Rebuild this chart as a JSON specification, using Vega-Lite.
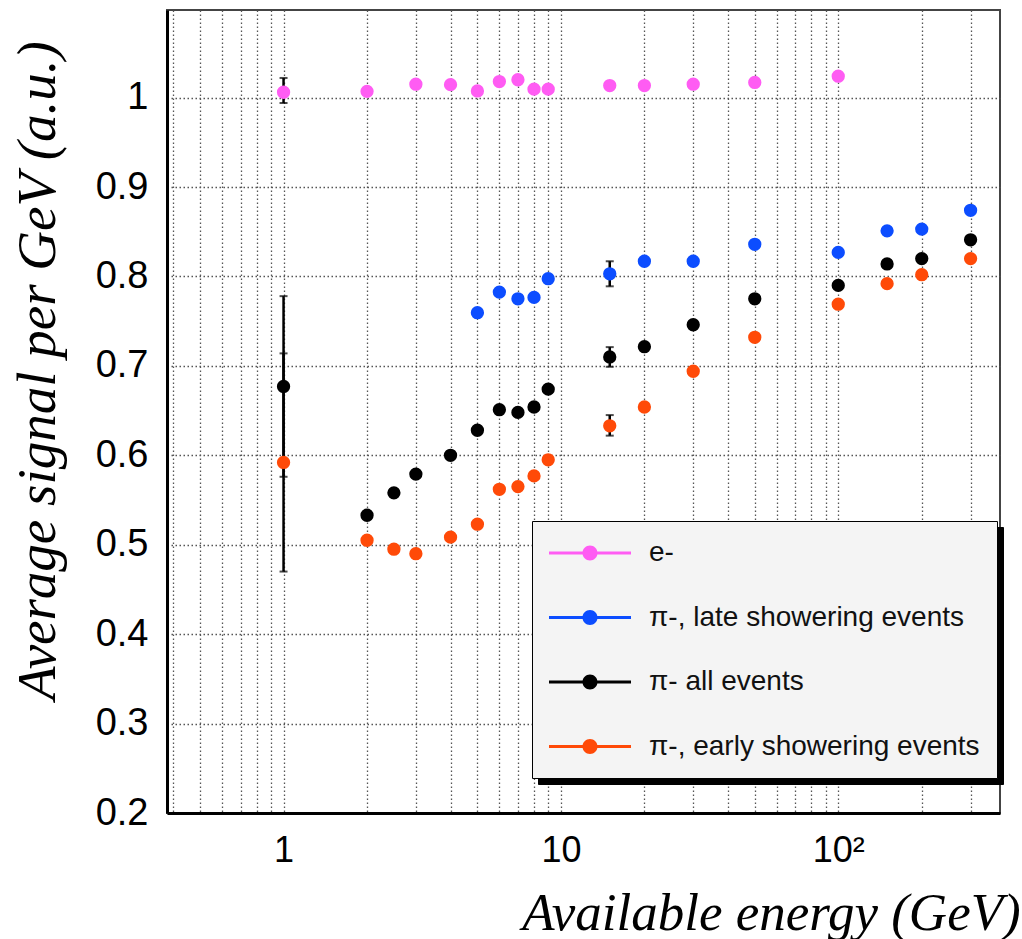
{
  "$schema": "https://vega.github.io/schema/vega-lite/v6.json",
  "width": 833,
  "height": 803,
  "autosize": "none",
  "padding": {"left": 167, "top": 10, "right": 22, "bottom": 126},
  "background": "white",
  "config": {"view": {"stroke": "#444", "strokeWidth": 2}},
  "datasets": {
    "pts": [
      {"E": 1, "v": 1.006, "s": "e-"},
      {"E": 2, "v": 1.007, "s": "e-"},
      {"E": 3, "v": 1.015, "s": "e-"},
      {"E": 4, "v": 1.0145, "s": "e-"},
      {"E": 5, "v": 1.0075, "s": "e-"},
      {"E": 6, "v": 1.018, "s": "e-"},
      {"E": 7, "v": 1.02, "s": "e-"},
      {"E": 8, "v": 1.0095, "s": "e-"},
      {"E": 9, "v": 1.0095, "s": "e-"},
      {"E": 15, "v": 1.0135, "s": "e-"},
      {"E": 20, "v": 1.0135, "s": "e-"},
      {"E": 30, "v": 1.015, "s": "e-"},
      {"E": 50, "v": 1.017, "s": "e-"},
      {"E": 100, "v": 1.024, "s": "e-"},
      {"E": 5, "v": 0.7595, "s": "π-, late showering events"},
      {"E": 6, "v": 0.7825, "s": "π-, late showering events"},
      {"E": 7, "v": 0.775, "s": "π-, late showering events"},
      {"E": 8, "v": 0.7766, "s": "π-, late showering events"},
      {"E": 9, "v": 0.7975, "s": "π-, late showering events"},
      {"E": 15, "v": 0.803, "s": "π-, late showering events"},
      {"E": 20, "v": 0.817, "s": "π-, late showering events"},
      {"E": 30, "v": 0.817, "s": "π-, late showering events"},
      {"E": 50, "v": 0.836, "s": "π-, late showering events"},
      {"E": 100, "v": 0.827, "s": "π-, late showering events"},
      {"E": 150, "v": 0.851, "s": "π-, late showering events"},
      {"E": 200, "v": 0.853, "s": "π-, late showering events"},
      {"E": 300, "v": 0.874, "s": "π-, late showering events"},
      {"E": 1, "v": 0.677, "s": "π- all events"},
      {"E": 2, "v": 0.533, "s": "π- all events"},
      {"E": 2.5, "v": 0.558, "s": "π- all events"},
      {"E": 3, "v": 0.579, "s": "π- all events"},
      {"E": 4, "v": 0.6, "s": "π- all events"},
      {"E": 5, "v": 0.628, "s": "π- all events"},
      {"E": 6, "v": 0.651, "s": "π- all events"},
      {"E": 7, "v": 0.648, "s": "π- all events"},
      {"E": 8, "v": 0.654, "s": "π- all events"},
      {"E": 9, "v": 0.674, "s": "π- all events"},
      {"E": 15, "v": 0.71, "s": "π- all events"},
      {"E": 20, "v": 0.7215, "s": "π- all events"},
      {"E": 30, "v": 0.746, "s": "π- all events"},
      {"E": 50, "v": 0.775, "s": "π- all events"},
      {"E": 100, "v": 0.79, "s": "π- all events"},
      {"E": 150, "v": 0.814, "s": "π- all events"},
      {"E": 200, "v": 0.82, "s": "π- all events"},
      {"E": 300, "v": 0.841, "s": "π- all events"},
      {"E": 1, "v": 0.592, "s": "π-, early showering events"},
      {"E": 2, "v": 0.505, "s": "π-, early showering events"},
      {"E": 2.5, "v": 0.495, "s": "π-, early showering events"},
      {"E": 3, "v": 0.49, "s": "π-, early showering events"},
      {"E": 4, "v": 0.5085, "s": "π-, early showering events"},
      {"E": 5, "v": 0.523, "s": "π-, early showering events"},
      {"E": 6, "v": 0.562, "s": "π-, early showering events"},
      {"E": 7, "v": 0.565, "s": "π-, early showering events"},
      {"E": 8, "v": 0.577, "s": "π-, early showering events"},
      {"E": 9, "v": 0.595, "s": "π-, early showering events"},
      {"E": 15, "v": 0.633, "s": "π-, early showering events"},
      {"E": 20, "v": 0.654, "s": "π-, early showering events"},
      {"E": 30, "v": 0.694, "s": "π-, early showering events"},
      {"E": 50, "v": 0.732, "s": "π-, early showering events"},
      {"E": 100, "v": 0.769, "s": "π-, early showering events"},
      {"E": 150, "v": 0.792, "s": "π-, early showering events"},
      {"E": 200, "v": 0.802, "s": "π-, early showering events"},
      {"E": 300, "v": 0.82, "s": "π-, early showering events"}
    ],
    "errs": [
      {"E": 1, "lo": 0.994, "hi": 1.022, "s": "e-"},
      {"E": 15, "lo": 0.789, "hi": 0.817, "s": "π-, late showering events"},
      {"E": 1, "lo": 0.576, "hi": 0.778, "s": "π- all events"},
      {"E": 15, "lo": 0.699, "hi": 0.721, "s": "π- all events"},
      {"E": 1, "lo": 0.47, "hi": 0.714, "s": "π-, early showering events"},
      {"E": 15, "lo": 0.622, "hi": 0.645, "s": "π-, early showering events"}
    ]
  },
  "layer": [
    {
      "data": {"name": "errs"},
      "mark": {"type": "rule", "color": "black", "strokeWidth": 2.5},
      "encoding": {
        "x": {
          "field": "E", "type": "quantitative",
          "scale": {"type": "log", "domain": [0.38, 383], "nice": false},
          "axis": {
            "values": [0.4,0.5,0.6,0.7,0.8,0.9,1,2,3,4,5,6,7,8,9,10,20,30,40,50,60,70,80,90,100,200,300],
            "tickCount": 200,
            "labelExpr": "datum.value == 1 ? '1' : datum.value == 10 ? '10' : datum.value == 100 ? '10²' : ''",
            "labelFont": "Liberation Sans", "labelFontSize": 36, "labelColor": "black",
            "labelPadding": 20, "labelFlush": false, "labelOverlap": false,
            "tickSize": 0, "tickColor": "black", "tickWidth": 2,
            "domainColor": "black", "domainWidth": 3,
            "grid": true, "gridColor": "#555", "gridDash": [1.5, 2.5], "gridWidth": 1.3,
            "title": "Available energy (GeV)",
            "titleFont": "Liberation Serif", "titleFontStyle": "italic", "titleFontWeight": "normal",
            "titleFontSize": 53, "titleColor": "black",
            "titleX": 604, "titleY": 100, "titleAlign": "center", "titleBaseline": "middle",
            "encode": {
              "ticks": {"y2": {"condition": {"test": "datum.value == 1 || datum.value == 10 || datum.value == 100", "value": -24}, "value": -12}}
            }
          }
        },
        "y": {
          "field": "lo", "type": "quantitative",
          "scale": {"type": "linear", "domain": [0.2, 1.098], "nice": false, "zero": false},
          "axis": {
            "values": [0.2,0.22,0.24,0.26,0.28,0.3,0.32,0.34,0.36,0.38,0.4,0.42,0.44,0.46,0.48,0.5,0.52,0.54,0.56,0.58,0.6,0.62,0.64,0.66,0.68,0.7,0.72,0.74,0.76,0.78,0.8,0.82,0.84,0.86,0.88,0.9,0.92,0.94,0.96,0.98,1,1.02,1.04,1.06,1.08],
            "tickCount": 200,
            "labelExpr": "abs(datum.value*10 - round(datum.value*10)) < 0.001 ? (datum.value == 1 ? '1' : format(datum.value, '.1f')) : ''",
            "labelFont": "Liberation Sans", "labelFontSize": 38, "labelColor": "black",
            "labelPadding": 19, "labelFlush": false, "labelOverlap": false,
            "tickSize": 0, "tickColor": "black", "tickWidth": 2,
            "domainColor": "black", "domainWidth": 3,
            "grid": true, "gridColor": "#555", "gridDash": [1.5, 2.5], "gridWidth": 1.3,
            "gridOpacity": {"condition": {"test": "abs(datum.value*10 - round(datum.value*10)) < 0.001", "value": 1}, "value": 0},
            "title": "Average signal per GeV (a.u.)",
            "titleFont": "Liberation Serif", "titleFontStyle": "italic", "titleFontWeight": "normal",
            "titleFontSize": 55, "titleColor": "black",
            "titleX": -130, "titleY": 360, "titleAlign": "center", "titleBaseline": "middle",
            "encode": {
              "ticks": {"x2": {"condition": {"test": "abs(datum.value*10 - round(datum.value*10)) < 0.001", "value": 25}, "value": 11}}
            }
          }
        },
        "y2": {"field": "hi"},
        "opacity": {
          "field": "s", "type": "nominal",
          "scale": {"range": [1, 1, 1, 1]},
          "legend": {
            "orient": "none", "legendX": 371, "legendY": 517, "zindex": 1,
            "title": null, "fillColor": "black", "strokeColor": "black",
            "padding": 17, "labelFont": "Liberation Sans", "labelFontSize": 28, "labelOpacity": 0,
            "labelLimit": 600, "labelOffset": 70, "rowPadding": 35.5,
            "symbolSize": 900, "symbolStrokeWidth": 0,
            "symbolType": "M-1,-0.1H1.25V0.1H-1Z M2.22,-0.1H4.467V0.1H2.22Z M2.233,0A0.5,0.5,0,1,1,1.233,0A0.5,0.5,0,1,1,2.233,0Z",
            "encode": {"symbols": {"opacity": {"value": 0}}}
          }
        }
      }
    },
    {
      "data": {"name": "errs"},
      "mark": {"type": "tick", "orient": "horizontal", "color": "black", "thickness": 2, "size": 8},
      "encoding": {
        "x": {"field": "E", "type": "quantitative", "scale": {"type": "log", "domain": [0.38, 383], "nice": false}, "title": "Available energy (GeV)"},
        "y": {"field": "lo", "type": "quantitative", "scale": {"type": "linear", "domain": [0.2, 1.098], "nice": false, "zero": false}, "title": "Average signal per GeV (a.u.)"}
      }
    },
    {
      "data": {"name": "errs"},
      "mark": {"type": "tick", "orient": "horizontal", "color": "black", "thickness": 2, "size": 8},
      "encoding": {
        "x": {"field": "E", "type": "quantitative", "scale": {"type": "log", "domain": [0.38, 383], "nice": false}, "title": "Available energy (GeV)"},
        "y": {"field": "hi", "type": "quantitative", "scale": {"type": "linear", "domain": [0.2, 1.098], "nice": false, "zero": false}, "title": "Average signal per GeV (a.u.)"}
      }
    },
    {
      "data": {"name": "pts"},
      "mark": {"type": "circle", "size": 177, "opacity": 1},
      "encoding": {
        "x": {"field": "E", "type": "quantitative", "scale": {"type": "log", "domain": [0.38, 383], "nice": false}, "title": "Available energy (GeV)"},
        "y": {"field": "v", "type": "quantitative", "scale": {"type": "linear", "domain": [0.2, 1.098], "nice": false, "zero": false}, "title": "Average signal per GeV (a.u.)"},
        "color": {
          "field": "s", "type": "nominal",
          "scale": {
            "domain": ["e-", "π-, late showering events", "π- all events", "π-, early showering events"],
            "range": ["#ff5cf3", "#0c4dff", "#000000", "#ff4a08"]
          },
          "legend": {
            "orient": "none", "legendX": 365, "legendY": 511, "zindex": 2,
            "title": null, "fillColor": "#f4f4f4", "strokeColor": "black",
            "padding": 17, "labelFont": "Liberation Sans", "labelFontSize": 28, "labelColor": "#111",
            "labelLimit": 600, "labelOffset": 70, "rowPadding": 35.5,
            "symbolSize": 900, "symbolStrokeWidth": 0,
            "symbolType": "M-1,-0.1H1.25V0.1H-1Z M2.22,-0.1H4.467V0.1H2.22Z M2.233,0A0.5,0.5,0,1,1,1.233,0A0.5,0.5,0,1,1,2.233,0Z",
            "encode": {
              "legend": {"strokeWidth": {"value": 2}}
            }
          }
        }
      }
    }
  ]
}
